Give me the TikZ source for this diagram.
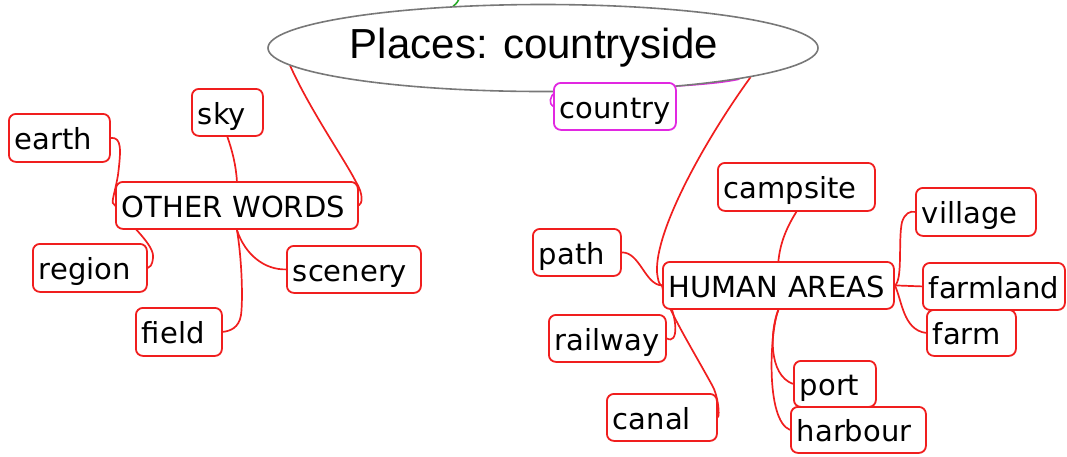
\documentclass[tikz,border=0pt]{standalone}
\usepackage{fontspec}
\setmainfont{DejaVu Sans}
\newfontfamily\titlefont{Liberation Sans}
\usetikzlibrary{shapes.geometric,backgrounds}
\definecolor{lred}{RGB}{240,30,30}
\definecolor{mag}{RGB}{225,40,225}
\definecolor{egray}{RGB}{120,120,120}
\definecolor{lgreen}{RGB}{40,170,40}
\tikzset{
  box/.style={draw=lred, line width=1.8pt, rounded corners=7pt, fill=white,
    anchor=north west, inner xsep=6pt, inner ysep=0pt, align=left,
    text height=28pt, text depth=4pt,
    font=\fontsize{29}{33}\selectfont, text=black},
  link/.style={draw=lred, line width=1.7pt},
}
\begin{document}
\begin{tikzpicture}[x=1pt,y=-1pt]
\useasboundingbox (0,0) rectangle (1067,456);
% title
\node[ellipse, draw=egray, line width=1.6pt, fill=white, minimum width=550pt,
  minimum height=87pt, inner sep=0pt, font=\titlefont\fontsize{42}{48}\selectfont]
  (title) at (543,48) {\hspace*{-18pt}\raisebox{-4pt}{Places: countryside}};
% left cluster
\node[box, minimum width=101pt, text width=89pt, minimum height=48pt] (earth) at (8,113) {earth};
\node[box, minimum width=71pt, text width=59pt, minimum height=47pt] (sky) at (191,88) {sky};
\node[box, minimum width=242pt, text width=230pt, minimum height=47pt] (ow) at (115,181) {OTHER WORDS};
\node[box, minimum width=114pt, text width=102pt, minimum height=48pt] (region) at (32,243) {region};
\node[box, minimum width=134pt, text width=122pt, minimum height=47pt] (scenery) at (286,245) {scenery};
\node[box, minimum width=86pt, text width=74pt, minimum height=48pt] (field) at (135,307) {field};
% country
\node[box, draw=mag, minimum width=122pt, text width=110pt, minimum height=47pt] (country) at (553,82) {country};
% right cluster
\node[box, minimum width=231pt, text width=219pt, minimum height=47pt] (ha) at (662,261) {HUMAN AREAS};
\node[box, minimum width=157pt, text width=145pt, minimum height=48pt] (campsite) at (717,162) {campsite};
\node[box, minimum width=120pt, text width=108pt, minimum height=48pt] (village) at (915,187) {village};
\node[box, minimum width=142pt, text width=130pt, minimum height=47pt] (farmland) at (922,262) {farmland};
\node[box, minimum width=89pt, text width=77pt, minimum height=46pt] (farm) at (926,309) {farm};
\node[box, minimum width=88pt, text width=76pt, minimum height=47pt] (path) at (532,228) {path};
\node[box, minimum width=117pt, text width=105pt, minimum height=47pt] (railway) at (548,314) {railway};
\node[box, minimum width=110pt, text width=98pt, minimum height=47pt] (canal) at (606,393) {canal};
\node[box, minimum width=82pt, text width=70pt, minimum height=46pt] (port) at (793,360) {port};
\node[box, minimum width=135pt, text width=123pt, minimum height=46pt] (harbour) at (790,406) {harbour};
\coordinate (gtop) at (460,-3);
\begin{scope}[on background layer]
\draw[draw=lgreen, line width=1.6pt] (title.155) .. controls (457,3) .. (gtop);
\draw[draw=mag, line width=1.6pt] (title.-9) .. controls (700,88) and (600,88) .. (556,92)
  .. controls (549,96) and (549,104) .. (country.west);
% left
\draw[link] (title.184) .. controls (310,110) and (345,160) .. (356,182)
  .. controls (364,195) and (362,204) .. (ow.east);
\draw[link] (earth.east) .. controls (122,137) and (121,150) .. (118,175)
  .. controls (114,198) and (110,203) .. (ow.west);
\draw[link] (ow.west) .. controls (130,225) and (155,245) .. (153,258)
  .. controls (152,266) and (150,267) .. (region.east);
\draw[link] (sky.south) .. controls (232,150) and (236,165) .. (ow.north);
\draw[link] (ow.south) .. controls (245,255) and (265,270) .. (scenery.west);
\draw[link] (ow.south) .. controls (242,260) and (243,300) .. (241,315)
  .. controls (239,328) and (230,331) .. (field.east);
% right
\draw[link] (title.-8) .. controls (705,140) and (655,230) .. (657,272)
  .. controls (658,282) and (660,286) .. (ha.west);
\draw[link] (path.east) .. controls (640,252) and (645,285) .. (ha.west);
\draw[link] (railway.east) .. controls (678,345) and (680,320) .. (ha.west);
\draw[link] (canal.east) .. controls (720,415) and (718,395) .. (712,385)
  .. controls (690,345) and (665,305) .. (ha.west);
\draw[link] (campsite.south) .. controls (785,230) and (780,245) .. (ha.north);
\draw[link] (ha.east) .. controls (903,280) and (898,240) .. (902,222)
  .. controls (905,213) and (910,211) .. (village.west);
\draw[link] (ha.east) -- (farmland.west);
\draw[link] (ha.east) .. controls (902,300) and (903,330) .. (farm.west);
\draw[link] (ha.south) .. controls (770,330) and (768,375) .. (port.west);
\draw[link] (ha.south) .. controls (770,330) and (765,420) .. (harbour.west);
\end{scope}
\end{tikzpicture}
\end{document}
